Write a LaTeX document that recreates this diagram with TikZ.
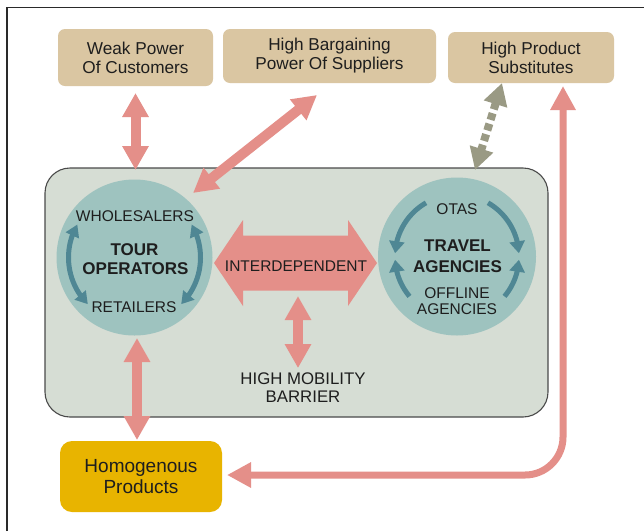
\documentclass[tikz,border=0pt]{standalone}
\usepackage{fontspec}
\setmainfont{Liberation Sans}
\usetikzlibrary{arrows.meta,bending,calc}
\definecolor{tanc}{HTML}{DAC6A2}
\definecolor{bigc}{HTML}{D6DDD4}
\definecolor{bordc}{HTML}{4A4A4A}
\definecolor{circc}{HTML}{9EC3BF}
\definecolor{tealc}{HTML}{4F8794}
\definecolor{pinkc}{HTML}{E48F89}
\definecolor{grayc}{HTML}{9A9A84}
\definecolor{yellc}{HTML}{E8B400}
\definecolor{txtc}{HTML}{1E1E1E}
\definecolor{framec}{HTML}{2A2A2A}
\begin{document}
\begin{tikzpicture}[x=1pt,y=-1pt,
  tanbox/.style={fill=tanc, rounded corners=7pt, inner sep=0pt, outer sep=0pt, align=center, text=txtc, font=\fontsize{17.2}{19}\selectfont},
  bigbox/.style={fill=bigc, draw=bordc, line width=1.1pt, rounded corners=25pt, inner sep=0pt, outer sep=0pt},
  circ/.style={circle, fill=circc, inner sep=0pt, outer sep=0pt},
  yellbox/.style={fill=yellc, rounded corners=12pt, inner sep=0pt, outer sep=0pt, align=center, text=txtc, font=\fontsize{19}{21}\selectfont},
  lblsm/.style={anchor=base, inner sep=0pt, text=txtc, font=\fontsize{15.5}{18}\selectfont},
  lblbf/.style={anchor=base, inner sep=0pt, text=txtc, font=\fontsize{17}{20}\selectfont\bfseries},
  lblmd/.style={anchor=base, inner sep=0pt, text=txtc, font=\fontsize{16.8}{19}\selectfont},
  pinkarrow/.style={draw=pinkc, line width=10pt, {Triangle[width=25pt,length=24pt]}-{Triangle[width=25pt,length=24pt]}},
  pinkline/.style={draw=pinkc, line width=7pt, rounded corners=38pt, {Triangle[width=24pt,length=24pt]}-{Triangle[width=24pt,length=24pt]}},
  grayarrow/.style={draw=grayc, line width=8pt, dash pattern=on 7pt off 4pt, {Triangle[width=23pt,length=22pt]}-{Triangle[width=23pt,length=22pt]}},
  tealdbl/.style={draw=tealc, line width=5pt, {Triangle[width=14pt,length=12pt]}-{Triangle[width=14pt,length=12pt]}},
  tealsgl/.style={draw=tealc, line width=5pt, -{Triangle[width=15pt,length=12pt]}}
]
\useasboundingbox (0,0) rectangle (644,531);
\fill[white] (0,0) rectangle (644,531);
\draw[framec, line width=1.5pt] (7,531) -- (7,7.5) -- (644,7.5);

% top boxes
\node[tanbox, minimum width=155pt, minimum height=57pt] (weak) at (135.5,57.5) {Weak Power\\Of Customers};
\node[tanbox, minimum width=213pt, minimum height=54pt] (barg) at (329.5,56) {High Bargaining\\Power Of Suppliers};
\node[tanbox, minimum width=166pt, minimum height=51pt] (subst) at (531,57.5) {High Product\\Substitutes};

% big panel
\node[bigbox, minimum width=503pt, minimum height=249pt] (big) at (296.5,292.5) {};

% circles
\node[circ, minimum size=156pt] (tour) at (134.5,257.5) {};
\node[circ, minimum size=158pt] (travel) at (457,256.5) {};

% homogenous box
\node[yellbox, minimum width=162pt, minimum height=71pt] (homog) at (141,476.5) {Homogenous\\Products};

% tour operators circle content
\draw[tealdbl] ($(tour.center)+(210:66)$) arc[start angle=210, end angle=135, radius=66];
\draw[tealdbl] ($(tour.center)+(-30:66)$) arc[start angle=-30, end angle=45, radius=66];
\node[lblsm] (whole) at (135,221) {WHOLESALERS};
\node[lblbf] (tour1) at (134.5,255) {TOUR};
\node[lblbf] (tour2) at (135.5,274.5) {OPERATORS};
\node[lblsm] (retail) at (134,312.5) {RETAILERS};

% travel agencies circle content
\draw[tealsgl] ($(travel.center)+(240:62)$) arc[start angle=240, end angle=183, radius=62];
\draw[tealsgl] ($(travel.center)+(140:62)$) arc[start angle=140, end angle=177, radius=62];
\draw[tealsgl] ($(travel.center)+(-60:62)$) arc[start angle=-60, end angle=-3, radius=62];
\draw[tealsgl] ($(travel.center)+(40:62)$) arc[start angle=40, end angle=3, radius=62];
\node[lblsm] (otas) at (457,214) {OTAS};
\node[lblbf] (trav1) at (457.5,251) {TRAVEL};
\node[lblbf] (trav2) at (457.5,272) {AGENCIES};
\node[lblsm] (off1) at (457,298) {OFFLINE};
\node[lblsm] (off2) at (457,314.5) {AGENCIES};

% interdependent block arrow
\coordinate (interc) at (295.5,263);
\fill[pinkc, shift={(interc)}] (-81.5,0) -- (-52.5,-43) -- (-52.5,-27.5) -- (52.5,-27.5) -- (52.5,-43) -- (81.5,0)
  -- (52.5,43) -- (52.5,27.5) -- (-52.5,27.5) -- (-52.5,43) -- cycle;
\node[anchor=base, inner sep=0pt, text=txtc, font=\fontsize{15.5}{18}\selectfont] (inter) at (296,271.3) {INTERDEPENDENT};
\coordinate (interbot) at ($(interc)+(2.5,33)$);

% mobility text
\node[lblmd] (mob1) at (303,384) {HIGH MOBILITY};
\node[lblmd] (mob2) at (303,402) {BARRIER};

% connectors
\draw[pinkarrow] ($(weak.south)+(0,7)$) -- ($(weak.south |- big.north)+(0,2)$);
\draw[pinkarrow] ($(barg.south)+(-12.5,12)$) -- ($(tour.center)+(58.5,-64.5)$);
\draw[grayarrow] ($(subst.south)+(-29,0)$) -- ($(travel.center)+(18,-86.5)$);
\draw[pinkline] ($(subst.south)+(32,3)$) |- ($(homog.east)+(5,-1.5)$);
\draw[pinkarrow] ($(tour.south)+(2.5,2.5)$) -- ($(homog.north)+(-4,-1)$);
\draw[pinkarrow] (interbot) -- ($(mob1.north)+(-5,-4)$);
\end{tikzpicture}
\end{document}
